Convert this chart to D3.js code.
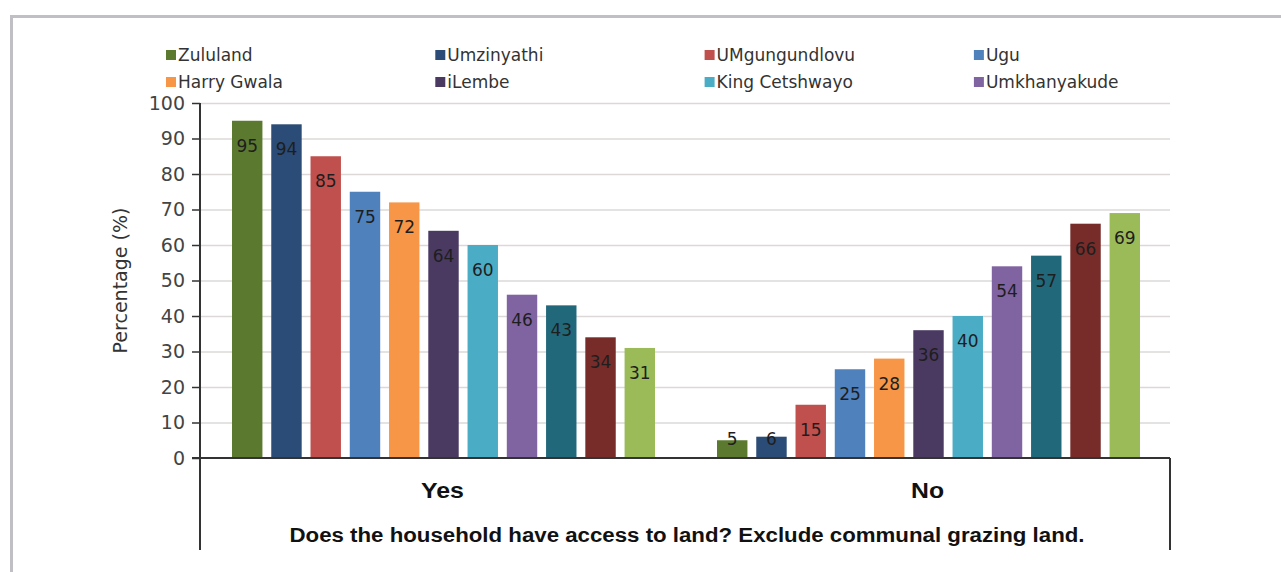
<!DOCTYPE html>
<html><head><meta charset="utf-8">
<script src="https://cdn.jsdelivr.net/npm/d3@7"></script>
<style>body{margin:0;background:#fff;}svg{display:block;}</style>
</head><body>
<script>
const categories = ["Yes", "No"];
const series = ["Zululand","Umzinyathi","UMgungundlovu","Ugu","Harry Gwala","iLembe","King Cetshwayo","Umkhanyakude","Series 9","Series 10","Series 11"];
const legendNames = ["Zululand","Umzinyathi","UMgungundlovu","Ugu","Harry Gwala","iLembe","King Cetshwayo","Umkhanyakude"];
const yesValues = [95,94,85,75,72,64,60,46,43,34,31];
const noValues  = [5,6,15,25,28,36,40,54,57,66,69];
const colors = ["#5b7a30","#2b4c76","#c0504d","#4f81bd","#f79646","#4a3a62","#4bacc6","#8064a2","#22687b","#772c2a","#9bbb59"];
const yTicks = [0,10,20,30,40,50,60,70,80,90,100];
const yTitle = "Percentage (%)";
const xTitle = "Does the household have access to land? Exclude communal grazing land.";

const W = 1281, H = 572;
const svg = d3.select("body").append("svg").attr("width", W).attr("height", H);
const font = "'DejaVu Sans', 'Liberation Sans', Arial, sans-serif";
const narrow = "'Liberation Sans Narrow', 'Liberation Sans', Arial, sans-serif";

// outer frame
svg.append("line").attr("x1",10).attr("x2",W).attr("y1",16.5).attr("y2",16.5).attr("stroke","#c0c0c4").attr("stroke-width",3);
svg.append("line").attr("x1",11.5).attr("x2",11.5).attr("y1",15).attr("y2",H).attr("stroke","#c0c0c4").attr("stroke-width",3);

const L = 200, R = 1170, T = 103, B = 458;
const y = d3.scaleLinear().domain([0,100]).range([B,T]);
const x0 = d3.scaleBand().domain(categories).range([L,R]);
const x1 = d3.scaleBand().domain(series).range([32, x0.bandwidth()-30]).paddingInner(0.225);

// gridlines
svg.append("g").selectAll("line").data(yTicks.filter(d=>d>0)).join("line")
  .attr("x1",L).attr("x2",R).attr("y1",d=>y(d)+0.5).attr("y2",d=>y(d)+0.5)
  .attr("stroke","#ddd8d8").attr("stroke-width",1.5);

// y axis
const yAxis = svg.append("g").attr("transform",`translate(${L},0)`)
  .call(d3.axisLeft(y).tickValues(yTicks).tickSize(8).tickPadding(7));
yAxis.select(".domain").remove();
yAxis.selectAll(".tick line").attr("stroke","#333").attr("stroke-width",1.5);
yAxis.selectAll(".tick text").attr("font-family",font).attr("font-size",19).attr("fill","#444");

// bars
const data = [];
series.forEach((s,i)=>{
  data.push({cat:"Yes", s, i, v:yesValues[i]});
  data.push({cat:"No", s, i, v:noValues[i]});
});
svg.append("g").selectAll("rect").data(data).join("rect")
  .attr("x",d=>x0(d.cat)+x1(d.s)).attr("width",x1.bandwidth())
  .attr("y",d=>y(d.v)).attr("height",d=>y(0)-y(d.v))
  .attr("fill",d=>colors[d.i]);

svg.append("g").selectAll("text").data(data).join("text")
  .attr("x",d=>x0(d.cat)+x1(d.s)+x1.bandwidth()/2)
  .attr("y",d=>Math.min(y(d.v)+31, y(0)-13))
  .attr("text-anchor","middle").attr("font-family",font).attr("font-size",17)
  .attr("fill","#1e1e1e").text(d=>d.v);

// axis lines
svg.append("line").attr("x1",L).attr("x2",L).attr("y1",T).attr("y2",550).attr("stroke","#333").attr("stroke-width",2);
svg.append("line").attr("x1",L-8).attr("x2",R).attr("y1",B).attr("y2",B).attr("stroke","#333").attr("stroke-width",2);
svg.append("line").attr("x1",R).attr("x2",R).attr("y1",B).attr("y2",550).attr("stroke","#333").attr("stroke-width",2);

// category labels
const catLen = {"Yes":43, "No":33};
svg.append("g").selectAll("text").data(categories).join("text")
  .attr("x",d=>x0(d)+x0.bandwidth()/2).attr("y",498)
  .attr("text-anchor","middle").attr("font-family",narrow)
  .attr("font-weight","bold").attr("font-size",22).attr("fill","#111")
  .attr("textLength",d=>catLen[d]).attr("lengthAdjust","spacingAndGlyphs").text(d=>d);

svg.append("text").attr("x",(L+R)/2 + 2).attr("y",542).attr("text-anchor","middle")
  .attr("font-family",narrow)
  .attr("font-weight","bold").attr("font-size",20).attr("fill","#111")
  .attr("textLength",795).attr("lengthAdjust","spacingAndGlyphs").text(xTitle);

// y title
svg.append("text").attr("transform",`translate(127,${(T+B)/2}) rotate(-90)`)
  .attr("text-anchor","middle").attr("font-family",font).attr("font-size",19).attr("fill","#333").text(yTitle);

// legend
const lg = svg.append("g");
legendNames.forEach((n,i)=>{
  const col = i%4, row = Math.floor(i/4);
  const lx = 166 + col*269.3, ly = 55 + row*27;
  lg.append("rect").attr("x",lx).attr("y",ly-5).attr("width",10).attr("height",10).attr("fill",colors[i]);
  lg.append("text").attr("x",lx+12).attr("y",ly+6).attr("font-family",font).attr("font-size",17).attr("fill","#333").text(n);
});
</script>
</body></html>
